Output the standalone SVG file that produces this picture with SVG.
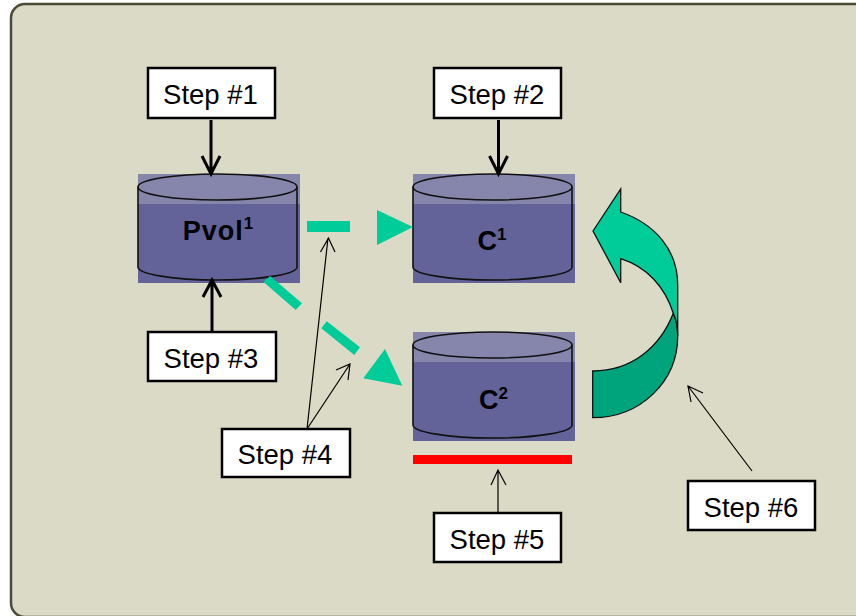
<svg xmlns="http://www.w3.org/2000/svg" width="856" height="616" viewBox="0 0 856 616">
<defs>
<style>
text{font-family:"Liberation Sans",Arial,sans-serif;fill:#000}
.lbl{font-size:27.500px;text-anchor:middle}
.cyl{font-size:27px;font-weight:700;text-anchor:middle}
.sup{font-size:17px;font-weight:700}
.box{fill:#fff;stroke:#000;stroke-width:2.5}
.band{fill:#8685ab}
.body{fill:#63639a}
.shape{fill:none;stroke:#111;stroke-width:1.600}
.thick{fill:none;stroke:#000;stroke-width:3}
.thin{fill:none;stroke:#000;stroke-width:1.2}
.teal{fill:#00cc99}
</style>
<g id="cylshape">
<rect x="0" y="0" width="162" height="109" class="body"/>
<rect x="0" y="0" width="162" height="30" class="band"/>
<path class="shape" d="M0 13V93C0 100 35 106 79.500 106S159 100 159 93V13"/>
<ellipse class="shape" cx="79.500" cy="13" rx="79.500" ry="13"/>
</g>
</defs>
<rect width="856" height="616" fill="#fff"/>
<rect id="panel" x="11" y="4" width="870" height="613" rx="14" fill="#dbdac6" stroke="#4a4a35" stroke-width="2.500"/>
<g id="node-curved-arrow">
<path d="M592.700 371C632 371 660 347 673.300 313.300C676 319 677.700 326 677.700 336C677.700 382 640 417.700 592.700 417.700Z" fill="#00a47c" stroke="#111" stroke-width="1.300"/>
<path d="M593 231L620.700 189V212C655 224 677.700 250 677.700 285V336C677.700 326 676 319 673.300 313.300C665 287 647 267 620.700 258.700V282.700Z" fill="#00cc99" stroke="#111" stroke-width="1.300"/>
</g>
<g id="node-pvol"><use href="#cylshape" x="138" y="174"/><text class="cyl" x="218.500" y="239.500" letter-spacing="1">Pvol<tspan class="sup" dy="-11">1</tspan></text></g>
<g id="node-c1"><use href="#cylshape" x="413" y="174"/><text class="cyl" x="492" y="250">C<tspan class="sup" dy="-10">1</tspan></text></g>
<g id="node-c2"><use href="#cylshape" x="413" y="332"/><text class="cyl" x="493.500" y="409">C<tspan class="sup" dy="-10">2</tspan></text></g>
<g id="connectors">
<path class="thick" d="M211 120V173M202 156L211 174L220 156"/>
<path class="thick" d="M498.500 120V173M489.500 156L498.500 174L507.500 156"/>
<path class="thick" d="M212 332V281M203 297L212 280L221 297"/>
<path class="thin" d="M307 429L328 238M320.500 252L328.500 238L335 252"/>
<path class="thin" d="M307 429L350 364M336 370L350 364L348 380"/>
<path class="thin" d="M498 513V470M491 485L498 470L506 485"/>
<path class="thin" d="M752 471L688 386M691 402L688 386L703 393"/>
<rect class="teal" x="307" y="221" width="43" height="11"/>
<path class="teal" d="M377 210L413 227L377 245Z"/>
<path class="teal" d="M263.300 281.700L270 276L302 303.300L295.700 310Z"/>
<path class="teal" d="M321.300 328.300L326.700 321.300L360 347.300L354.300 355Z"/>
<path class="teal" d="M385 349L402.300 385.700L363.300 378.300Z"/>
<rect x="413" y="455" width="159" height="9" fill="#f00"/>
</g>
<g id="node-step1"><rect class="box" x="148" y="68" width="127" height="50"/><text class="lbl" x="210.500" y="104">Step #1</text></g>
<g id="node-step2"><rect class="box" x="434" y="68" width="127" height="50"/><text class="lbl" x="497" y="104">Step #2</text></g>
<g id="node-step3"><rect class="box" x="148" y="332" width="128" height="49"/><text class="lbl" x="211" y="368">Step #3</text></g>
<g id="node-step4"><rect class="box" x="222" y="429" width="128" height="48"/><text class="lbl" x="285" y="464">Step #4</text></g>
<g id="node-step5"><rect class="box" x="434" y="513" width="127" height="49"/><text class="lbl" x="497" y="549">Step #5</text></g>
<g id="node-step6"><rect class="box" x="688" y="481" width="127" height="49"/><text class="lbl" x="751" y="517">Step #6</text></g>
</svg>
